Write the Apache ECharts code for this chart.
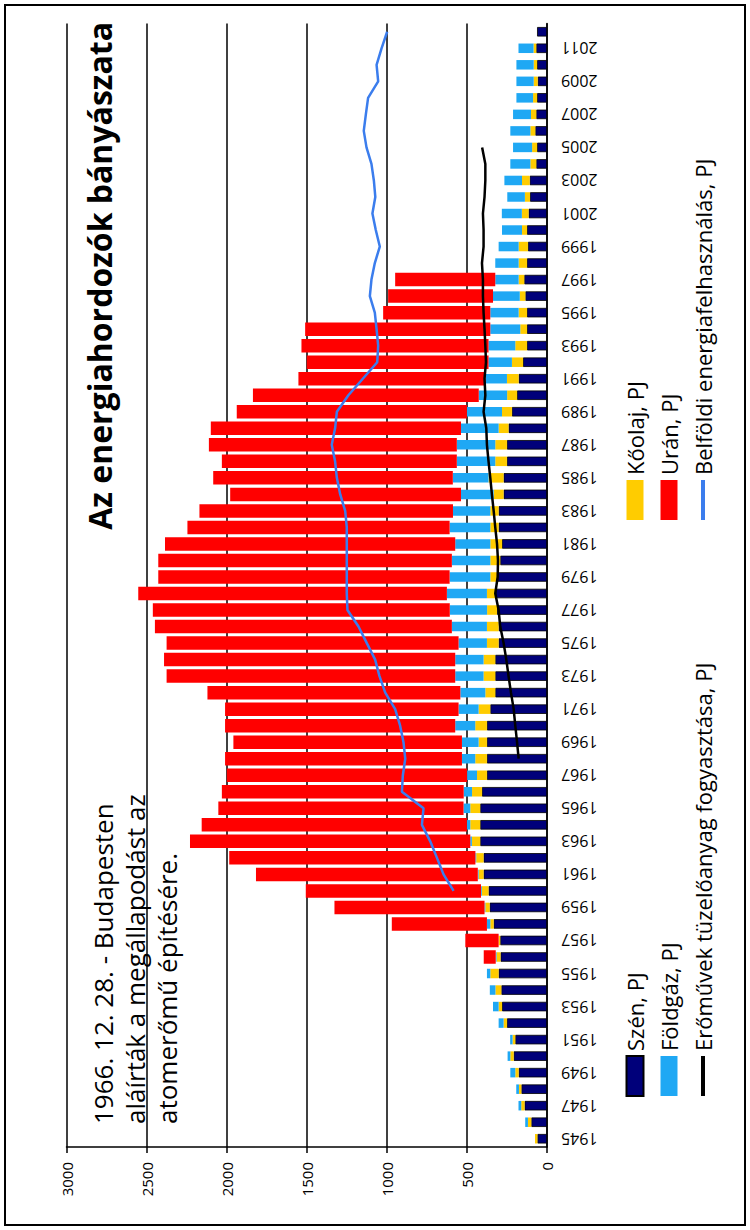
<!DOCTYPE html>
<html>
<head>
<meta charset="utf-8">
<script src="https://cdn.jsdelivr.net/npm/echarts@6/dist/echarts.min.js"></script>
<style>
  html, body { margin: 0; padding: 0; background: #fff; width: 750px; height: 1230px; overflow: hidden; }
  /* the chart is laid out landscape and turned a quarter turn, like the reference */
  #chart { position: absolute; left: 0; top: 0; width: 1230px; height: 750px;
           transform-origin: 0 0; transform: translateY(1230px) rotate(-90deg); }
</style>
</head>
<body>
<div id="chart"></div>
<script>
const years = ['1945','1946','1947','1948','1949','1950','1951','1952','1953','1954',
  '1955','1956','1957','1958','1959','1960','1961','1962','1963','1964',
  '1965','1966','1967','1968','1969','1970','1971','1972','1973','1974',
  '1975','1976','1977','1978','1979','1980','1981','1982','1983','1984',
  '1985','1986','1987','1988','1989','1990','1991','1992','1993','1994',
  '1995','1996','1997','1998','1999','2000','2001','2002','2003','2004',
  '2005','2006','2007','2008','2009','2010','2011','2012'];

// PJ, 1945..2012
const szen = [60,98,140,160,177,208,198,250,281,285,
  302,290,292,333,358,365,396,396,417,417,
  417,406,375,375,375,375,354,323,323,323,
  302,302,312,323,312,292,281,302,302,271,
  271,250,250,240,219,187,177,150,125,125,
  125,135,142,125,119,125,115,106,108,67,
  62,73,67,62,58,62,67,62];
const koolaj = [15,21,21,15,21,21,17,21,21,37,
  52,25,10,21,27,42,31,46,52,62,
  62,62,62,73,52,73,73,62,73,73,
  73,73,62,52,42,62,73,52,52,62,
  94,73,73,62,62,62,73,69,73,42,
  52,35,35,52,58,31,42,32,48,37,
  31,31,33,25,25,21,17,0];
const foldgaz = [0,17,17,17,31,17,15,31,35,35,
  21,5,0,21,5,5,5,5,10,21,
  42,52,62,83,104,125,125,156,177,177,
  177,219,233,250,254,240,219,254,233,204,
  223,240,240,235,219,177,135,146,167,187,
  177,167,146,146,125,125,125,110,110,125,
  119,125,112,104,108,108,94,0];
const uran = [null,null,null,null,null,null,null,null,null,null,
  null,75,208,594,937,1094,1385,1537,1750,1656,
  1531,1510,1500,1479,1427,1437,1458,1579,1802,1818,
  1823,1854,1854,1927,1819,1833,1812,1637,1583,1441,
  1496,1467,1548,1562,1437,1410,1167,1135,1168,1156,
  669,655,625,null,null,null,null,null,null,null,
  null,null,null,null,null,null,null,null];
const eromuvek = [null,null,null,null,null,null,null,null,null,null,
  null,null,null,null,null,null,null,null,null,null,
  null,null,null,177,187,198,208,225,240,254,
  271,292,302,323,308,306,312,323,333,344,
  354,365,375,379,396,385,390,381,385,390,
  396,400,400,406,396,396,400,390,385,385,
  405,null,null,null,null,null,null,null];
const belfoldi = [null,null,null,null,null,null,null,null,null,null,
  null,null,null,null,null,583,646,687,729,781,
  771,906,900,885,896,917,948,1010,1046,1073,
  1125,1177,1246,1250,1250,1250,1250,1250,1260,1291,
  1312,1323,1344,1323,1312,1240,1150,1060,1054,1064,
  1075,1106,1096,1075,1044,1069,1090,1072,1081,1096,
  1127,1144,1131,1117,1054,1064,1033,998];

const FONT = '"Open Sans", "DejaVu Sans", sans-serif';

// uránium bars sit on their own (hidden) category axis so they can be wider,
// stacked on an invisible base equal to the other three fuels
const base = years.map((y, i) => szen[i] + koolaj[i] + foldgaz[i]);

const chart = echarts.init(document.getElementById('chart'), null, {
  renderer: 'svg', width: 1230, height: 750
});

// line entries in the legend: just the stroke, no marker
const noMarker = { color: 'rgba(0,0,0,0)', borderWidth: 0, opacity: 0 };

const legendCommon = {
  orient: 'vertical',
  top: 624,
  padding: 0,
  itemWidth: 40,
  itemHeight: 17,
  itemGap: 12,
  textStyle: { fontFamily: FONT, fontSize: 22, color: '#000', lineHeight: 17 },
  lineStyle: { width: 4 }
};

chart.setOption({
  animation: false,
  textStyle: { fontFamily: FONT, color: '#000' },
  title: {
    text: 'Az energiahordozók bányászata',
    right: 22, top: 83, padding: 0,
    textStyle: { fontFamily: FONT, fontSize: 32, fontWeight: 'bold', color: '#000' }
  },
  legend: [
    Object.assign({}, legendCommon, {
      left: 132,
      data: [
        { name: 'Szén, PJ', icon: 'rect' },
        { name: 'Földgáz, PJ', icon: 'rect' },
        { name: 'Erőművek tüzelőanyag fogyasztása, PJ', itemStyle: noMarker }
      ]
    }),
    Object.assign({}, legendCommon, {
      left: 708,
      data: [
        { name: 'Kőolaj, PJ', icon: 'rect' },
        { name: 'Urán, PJ', icon: 'rect' },
        { name: 'Belföldi energiafelhasználás, PJ', itemStyle: noMarker }
      ]
    })
  ],
  grid: { left: 83, top: 66.5, width: 1123.5, height: 480.5 },
  xAxis: [
    {
      type: 'category',
      data: years,
      axisLine: { lineStyle: { color: '#000', width: 1.5 } },
      axisTick: { interval: 0, length: 7, lineStyle: { color: '#000', width: 1.5 } },
      axisLabel: { interval: 1, rotate: 90, margin: 14, fontSize: 16, color: '#000', fontFamily: FONT }
    },
    { type: 'category', data: years, show: false }
  ],
  yAxis: {
    type: 'value',
    min: 0, max: 3000, interval: 500,
    axisLine: { show: true, lineStyle: { color: '#000', width: 1.5 } },
    axisTick: { show: true, length: 6, lineStyle: { color: '#000', width: 1.5 } },
    splitLine: { lineStyle: { color: '#000', width: 1.5 } },
    axisLabel: { fontSize: 15, margin: 15, color: '#000', fontFamily: FONT,
                 formatter: v => String(v) }
  },
  graphic: [
    {
      type: 'rect', silent: true,
      shape: { x: 5, y: 5, width: 1220, height: 740 },
      style: { fill: 'none', stroke: '#000', lineWidth: 2 }
    },
    {
      type: 'text', x: 106, y: 87, silent: true, z: 10,
      style: {
        text: '1966. 12. 28. - Budapesten\naláírták a megállapodást az\natomerőmű építésére.',
        fontFamily: FONT, fontSize: 26, lineHeight: 32, fill: '#000', verticalAlign: 'top'
      }
    }
  ],
  series: [
    { name: 'Szén, PJ', type: 'bar', stack: 'fuel', barWidth: 9.5, data: szen,
      itemStyle: { color: '#00007a', borderColor: '#000', borderWidth: 0.8 } },
    { name: 'Kőolaj, PJ', type: 'bar', stack: 'fuel', data: koolaj,
      itemStyle: { color: '#ffcc00' } },
    { name: 'Földgáz, PJ', type: 'bar', stack: 'fuel', data: foldgaz,
      itemStyle: { color: '#1fa8f4' } },
    { name: 'alap', type: 'bar', xAxisIndex: 1, stack: 'uran', barWidth: 13.5, data: base,
      silent: true, itemStyle: { color: 'rgba(0,0,0,0)' } },
    { name: 'Urán, PJ', type: 'bar', xAxisIndex: 1, stack: 'uran', data: uran,
      itemStyle: { color: '#ff0000' } },
    { name: 'Erőművek tüzelőanyag fogyasztása, PJ', type: 'line', data: eromuvek,
      symbol: 'none', lineStyle: { color: '#000', width: 2.5 }, itemStyle: { color: '#000' }, z: 5 },
    { name: 'Belföldi energiafelhasználás, PJ', type: 'line', data: belfoldi,
      symbol: 'none', lineStyle: { color: '#3b7ded', width: 2.5 }, itemStyle: { color: '#3b7ded' }, z: 5 }
  ]
});
</script>
</body>
</html>
